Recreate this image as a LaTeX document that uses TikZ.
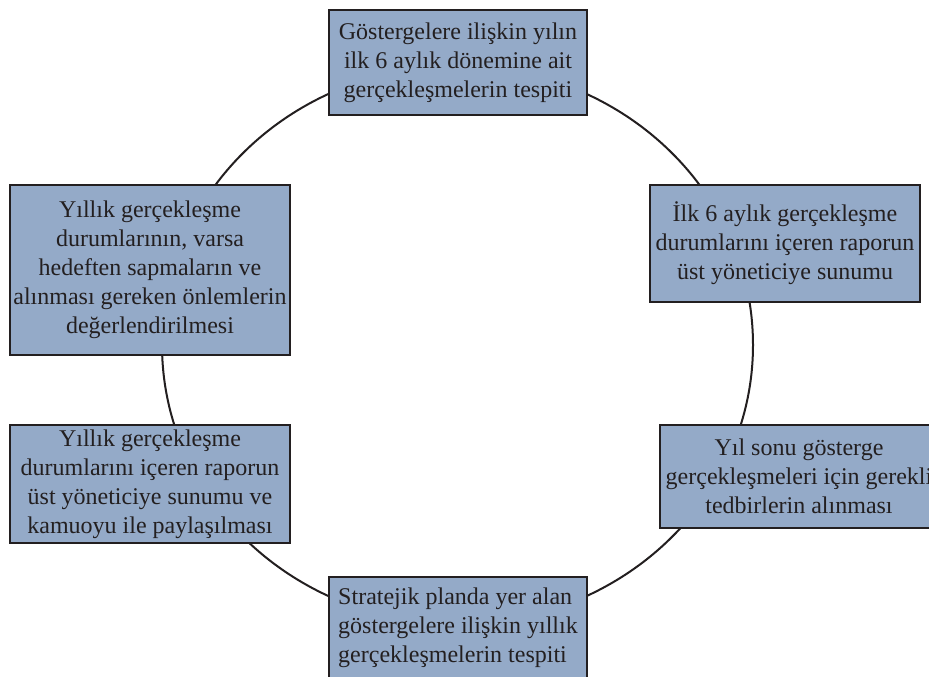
\documentclass[tikz,border=0pt]{standalone}
\usepackage{fontspec}
\setmainfont{Liberation Serif}
\definecolor{boxfill}{HTML}{94AAC8}
\definecolor{ink}{HTML}{231F20}
\tikzset{
  stagebox/.style={draw=ink, fill=boxfill, line width=2.6pt, inner sep=0pt,
    text=ink, align=center, font=\fontsize{24}{29}\selectfont},
  ring/.style={draw=ink, line width=2pt}
}
\begin{document}
\begin{tikzpicture}[x=1pt,y=-1pt]
\useasboundingbox (0,0) rectangle (929,677);
\clip (0,0) rectangle (929,677);
\draw[ring] (457.5,345) ellipse [x radius=295.5, y radius=279];
\node[stagebox, minimum width=258, minimum height=105] (top) at (458,62.5)
  {Göstergelere ilişkin yılın\\ilk 6 aylık dönemine ait\\gerçekleşmelerin tespiti};
\node[stagebox, minimum width=270, minimum height=117] (rtop) at (785,243.5)
  {İlk 6 aylık gerçekleşme\\durumlarını içeren raporun\\üst yöneticiye sunumu};
\node[stagebox, minimum width=278, minimum height=103] (rbot) at (799,476.5)
  {Yıl sonu gösterge\\gerçekleşmeleri için gerekli\\tedbirlerin alınması};
\node[stagebox, minimum width=258, minimum height=102, align=left] (bot) at (458,628)
  {Stratejik planda yer alan\\göstergelere ilişkin yıllık\\gerçekleşmelerin tespiti};
\node[stagebox, minimum width=280, minimum height=118] (lbot) at (150,484)
  {Yıllık gerçekleşme\\durumlarını içeren raporun\\üst yöneticiye sunumu ve\\kamuoyu ile paylaşılması};
\node[stagebox, minimum width=280, minimum height=170] (ltop) at (150,270)
  {Yıllık gerçekleşme\\durumlarının, varsa\\hedeften sapmaların ve\\alınması gereken önlemlerin\\değerlendirilmesi};
\end{tikzpicture}
\end{document}
